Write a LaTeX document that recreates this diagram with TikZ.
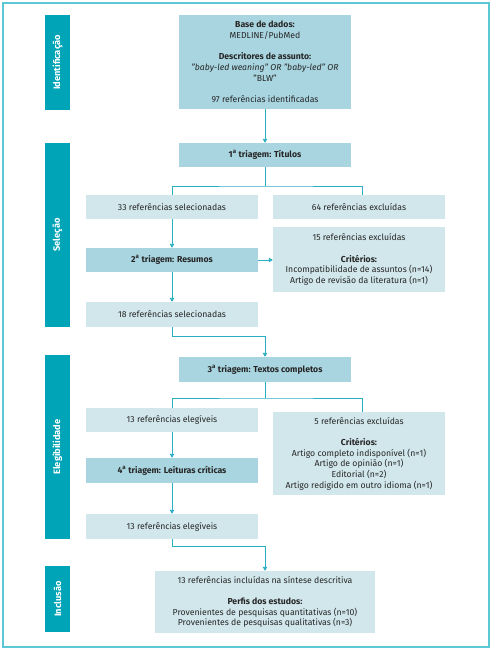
\documentclass[tikz,border=0pt]{standalone}
\usepackage{fontspec}
\setmainfont{Fira Sans}
\usetikzlibrary{arrows.meta}
\definecolor{bar}{HTML}{00A4B7}
\definecolor{mid}{HTML}{A8D5E0}
\definecolor{light}{HTML}{D1E7EC}
\definecolor{ln}{HTML}{2AAFC2}
\definecolor{framec}{HTML}{5CC8D6}
\definecolor{txt}{HTML}{262626}
\newcommand{\ord}{\textsuperscript{a}}
\begin{document}
\begin{tikzpicture}[x=1bp,y=-1bp,
 box/.style={inner sep=0pt, align=center, font=\fontsize{8.7}{10.7}\selectfont, text=txt},
 midbox/.style={box, fill=mid},
 lightbox/.style={box, fill=light},
 sidebar/.style={fill=bar, inner sep=0pt, text=white, rotate=90, font=\bfseries\fontsize{9.3}{10}\selectfont},
 conn/.style={draw=ln, line width=0.9bp},
 arr/.style={conn, -{Triangle[length=4bp,width=4.5bp]}}
]
\useasboundingbox (0,0) rectangle (492,650);
\draw[framec, line width=1.5bp] (3,3) rectangle (489,647);

% side bars
\node[sidebar, minimum width=95bp, minimum height=25bp] (sb1) at (57.5,62.5) {Identificação};
\node[sidebar, minimum width=184bp, minimum height=25bp] (sb2) at (57.5,235) {Seleção};
\node[sidebar, minimum width=184bp, minimum height=25bp] (sb3) at (57.5,447) {Elegibilidade};
\node[sidebar, minimum width=66bp, minimum height=25bp] (sb4) at (57.5,599) {Inclusão};

% boxes
\node[midbox, minimum width=172bp, minimum height=94bp] (db) at (265,62) {\textbf{Base de dados:}\\MEDLINE/PubMed\\[10.7bp]\textbf{Descritores de assunto:}\\\textit{"baby-led weaning" OR "baby-led" OR}\\"BLW"\\[10.7bp]97 referências identificadas};
\node[midbox, minimum width=172bp, minimum height=24bp] (t1) at (265,155) {\textbf{1\ord\ triagem: Títulos}};
\node[lightbox, minimum width=172bp, minimum height=24bp] (s33) at (172,207) {33 referências selecionadas};
\node[lightbox, minimum width=172bp, minimum height=24bp] (e64) at (359,207) {64 referências excluídas};
\node[midbox, minimum width=172bp, minimum height=24bp] (t2) at (172,260) {\textbf{2\ord\ triagem: Resumos}};
\node[lightbox, minimum width=172bp, minimum height=65bp] (e15) at (359,259.5) {15 referências excluídas\\[10.7bp]\textbf{Critérios:}\\Incompatibilidade de assuntos (n=14)\\Artigo de revisão da literatura (n=1)};
\node[lightbox, minimum width=172bp, minimum height=25bp] (s18) at (172,314.5) {18 referências selecionadas};
\node[midbox, minimum width=172bp, minimum height=25bp] (t3) at (265,369.5) {\textbf{3\ord\ triagem: Textos completos}};
\node[lightbox, minimum width=172bp, minimum height=24bp] (el13) at (172,420) {13 referências elegíveis};
\node[lightbox, minimum width=172bp, minimum height=83bp] (e5) at (359,453.5) {5 referências excluídas\\[10.7bp]\textbf{Critérios:}\\Artigo completo indisponível (n=1)\\Artigo de opinião (n=1)\\Editorial (n=2)\\Artigo redigido em outro idioma (n=1)};
\node[midbox, minimum width=172bp, minimum height=25bp] (t4) at (172,470.5) {\textbf{4\ord\ triagem: Leituras críticas}};
\node[lightbox, minimum width=172bp, minimum height=25bp] (el13b) at (172,526.5) {13 referências elegíveis};
\node[lightbox, minimum width=220bp, minimum height=62bp] (inc) at (265,602) {13 referências incluídas na síntese descritiva\\[10.7bp]\textbf{Perfis dos estudos:}\\Provenientes de pesquisas quantitativas (n=10)\\Provenientes de pesquisas qualitativas (n=3)};

% connectors
\draw[arr] (db.south) -- (t1.north);
\coordinate (b1) at (265,186);
\draw[conn] (t1.south) -- (b1);
\draw[conn] (s33.north) |- (b1) -| ([xshift=3bp]e64.north);
\draw[arr] (s33.south) -- (t2.north);
\draw[arr] (t2.east) -- (t2.east -| e15.west);
\draw[arr] (t2.south) -- (s18.north);
\draw[arr] (s18.south) -- ++(0,9.5) -| (t3.north);
\coordinate (b2) at (265,398);
\draw[conn] (t3.south) -- (b2);
\draw[conn] (el13.north) |- (b2) -| ([xshift=3bp]e5.north);
\draw[arr] (el13.south) -- (t4.north);
\draw[arr] (t4.south) -- (el13b.north);
\draw[arr] (el13b.south) -- ++(0,7.5) -| (inc.north);
\end{tikzpicture}
\end{document}
